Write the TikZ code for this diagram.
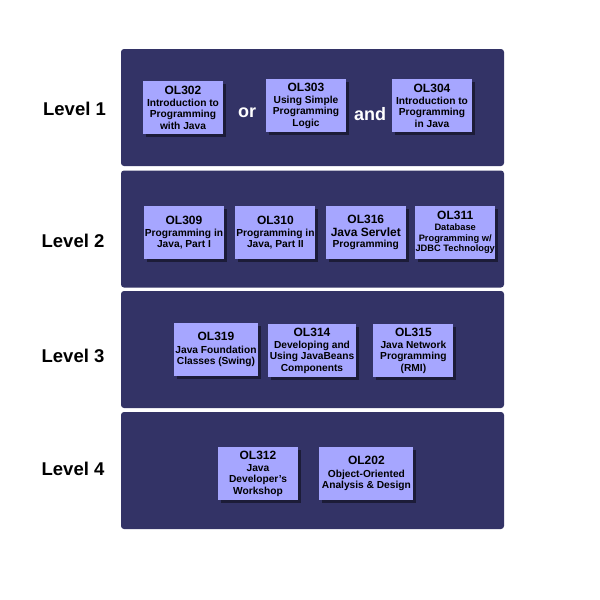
\documentclass[tikz,border=0pt]{standalone}
\usepackage{fontspec}
\setmainfont{Liberation Sans}
\usetikzlibrary{positioning,shadows}
\definecolor{panelblue}{RGB}{51,51,102}
\definecolor{courselilac}{RGB}{166,166,255}
\newcommand\ctitle[1]{{\fontsize{12}{12}\selectfont #1}}
\tikzset{
  panel/.style={fill=panelblue, rounded corners=3pt, minimum width=383pt, minimum height=117pt, inner sep=0pt},
  course/.style={fill=courselilac, minimum width=80pt, minimum height=53pt, inner sep=0pt, align=center,
    font=\bfseries\fontsize{10.2}{11.3}\selectfont,
    drop shadow={shadow xshift=3pt, shadow yshift=-3pt, fill=black, opacity=.45}},
  level/.style={font=\bfseries\fontsize{18.5}{18.5}\selectfont, anchor=base},
  joiner/.style={font=\bfseries\fontsize{18}{18}\selectfont, text=white, anchor=base}
}
\begin{document}
\begin{tikzpicture}[x=1pt, y=-1pt]
\useasboundingbox (0,0) rectangle (600,600);
\foreach \i/\y in {1/107.5, 2/229, 3/349.5, 4/470.5}
  \node[panel] (p\i) at (312.5,\y) {};
\foreach \i/\y/\x in {1/115.7/74.5, 2/247.3/73, 3/362.3/73, 4/475/73}
  \node[level] (lev\i) at (\x,\y) {Level \i};

% level 1
\node[course] (ol302) at (183,107.5) {\ctitle{OL302}\\[1pt]Introduction to\\Programming\\with Java};
\node[course] (ol303) at (306,105.5) {\ctitle{OL303}\\[1pt]Using Simple\\Programming\\Logic};
\node[course] (ol304) at (432,105.5) {\ctitle{OL304}\\[1pt]Introduction to\\Programming\\in Java};
\node[joiner] (or) at (247,117.5) {or};
\node[joiner] (and) at (370,120) {and};

% level 2
\node[course] (ol309) at (184,232.5) {\ctitle{OL309}\\[1pt]Programming in\\Java, Part I};
\node[course] (ol310) [right=11pt of ol309] {\ctitle{OL310}\\[1pt]Programming in\\Java, Part II};
\node[course] (ol316) [right=10pt of ol310] {\ctitle{OL316}\\[1pt]\ctitle{Java Servlet}\\Programming};
\node[course, font=\bfseries\fontsize{9.3}{10.5}\selectfont] (ol311) [right=9pt of ol316] {\ctitle{OL311}\\[1pt]Database\\Programming w/\\JDBC Technology};

% level 3
\node[course, minimum width=84pt] (ol319) at (216,349.5) {\ctitle{OL319}\\[1pt]Java Foundation\\Classes (Swing)};
\node[course, minimum width=88pt] (ol314) at (312,350.5) {\ctitle{OL314}\\[1pt]Developing and\\Using JavaBeans\\Components};
\node[course] (ol315) [right=17pt of ol314] {\ctitle{OL315}\\[1pt]Java Network\\Programming\\(RMI)};

% level 4
\node[course] (ol312) at (258,473.5) {\ctitle{OL312}\\[1pt]Java\\Developer's\\Workshop};
\node[course, minimum width=94pt] (ol202) [right=21pt of ol312] {\ctitle{OL202}\\[1pt]Object-Oriented\\Analysis \& Design};
\end{tikzpicture}
\end{document}
